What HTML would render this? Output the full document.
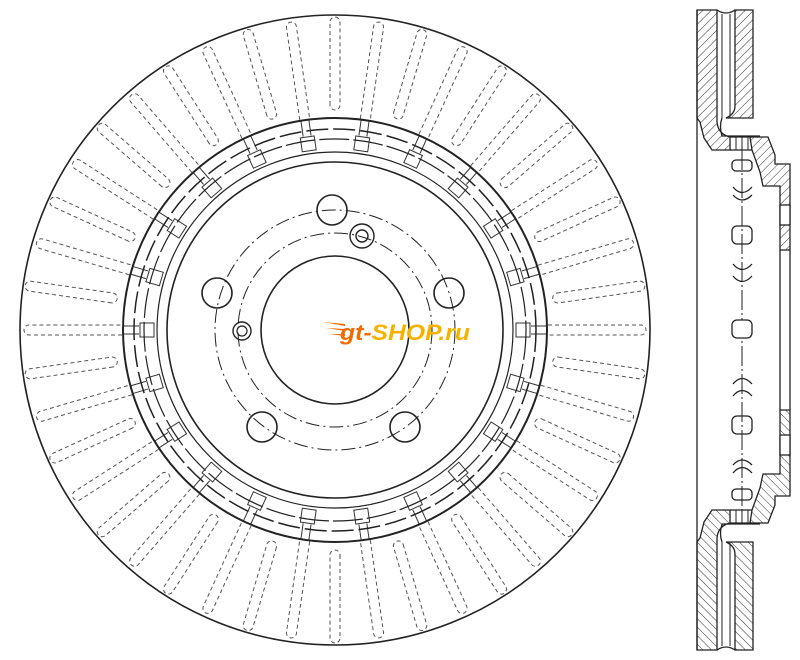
<!DOCTYPE html>
<html><head><meta charset="utf-8"><style>
html,body{margin:0;padding:0;background:#fff}
svg{display:block}
</style></head><body>
<svg id="s" width="800" height="660" viewBox="0 0 800 660" xmlns="http://www.w3.org/2000/svg">
<defs>
<pattern id="h" width="6" height="6" patternUnits="userSpaceOnUse" patternTransform="rotate(45)">
<rect width="6" height="6" fill="#fff"/><line x1="0" y1="0" x2="0" y2="6" stroke="#333" stroke-width="1"/>
</pattern>
</defs>
<g fill="none" stroke="#222">
<circle cx="335" cy="330" r="315" stroke-width="1.6"/>
<g id="vanes" stroke="#555" stroke-width="1" stroke-dasharray="4,3"></g>
<g id="tabs" stroke="#333" stroke-width="1"></g>
<circle cx="335" cy="330" r="212" stroke-width="2"/>
<circle cx="335" cy="330" r="201" stroke-width="1.5" stroke-dasharray="22,5"/>
<circle cx="335" cy="330" r="191" stroke-width="1.2" stroke-dasharray="30,4"/>
<circle cx="335" cy="330" r="178" stroke-width="1.2"/>
<circle cx="335" cy="330" r="168" stroke-width="1.6"/>
<circle cx="335" cy="330" r="74" stroke-width="1.6"/>
<circle cx="335" cy="330" r="120" stroke-width="1" stroke-dasharray="14,4,2,4"/>
<circle cx="335" cy="330" r="97" stroke-width="1" stroke-dasharray="14,4,2,4"/>
<circle cx="332" cy="210" r="15" stroke-width="1.6"/>
<circle cx="449" cy="293" r="15" stroke-width="1.6"/>
<circle cx="217" cy="293" r="15" stroke-width="1.6"/>
<circle cx="405" cy="427" r="15" stroke-width="1.6"/>
<circle cx="262" cy="427" r="15" stroke-width="1.6"/>
<circle cx="362" cy="236" r="12" stroke-width="1.4"/>
<circle cx="362" cy="236" r="6" stroke-width="1.4"/>
<circle cx="242" cy="331" r="9" stroke-width="1.4"/>
<circle cx="242" cy="331" r="5" stroke-width="1.2"/>
</g>
<g>
<path d="M323,322 L345,324 L345,326 Z M326,328 L345,329 L345,331 Z M329,334 L345,334 L345,336 Z" fill="#f26a00"/>
<text x="340" y="340" font-family="Liberation Sans, sans-serif" font-weight="bold" font-style="italic" font-size="22" textLength="130" lengthAdjust="spacingAndGlyphs"><tspan fill="#f26a00">gt-</tspan><tspan fill="#f5b300">SHOP.ru</tspan></text>
</g>
<g id="sec" stroke="#222" stroke-width="1.3">
<g id="half">
<path d="M697,10 H717 V122 Q718,134 730,137 V150 H712 L704,138 L700,122 L697,118 Z" fill="url(#h)"/>
<path d="M735,10 H753 V118 H726 Q735,114 735,106 Z" fill="url(#h)"/>
<path d="M717,10 Q726,16 735,10" fill="none"/>
<line x1="722" y1="14" x2="722" y2="118" stroke-width="1"/>
<line x1="730" y1="14" x2="730" y2="118" stroke-width="1"/>
<path d="M722,118 Q719,126 722,136 H760" fill="none"/>
<path d="M750,137 H768 L775,155 V164 H790 V250 H780 V186 H763 L760,172 L752,150 Z" fill="url(#h)"/>
<rect x="780" y="205" width="10" height="20" fill="#fff"/>
<line x1="730" y1="137" x2="752" y2="137"/>
<line x1="730" y1="150" x2="752" y2="150"/>
<line x1="736" y1="137" x2="736" y2="150" stroke-width="1"/>
<line x1="742" y1="137" x2="742" y2="150" stroke-width="1"/>
<line x1="748" y1="137" x2="748" y2="150" stroke-width="1"/>
<rect x="732" y="160" width="20" height="11" rx="4" fill="#fff"/>
<path d="M733,187 Q742,198 752,187 M733,195 Q742,205 752,195" fill="none"/>
<rect x="732" y="226" width="20" height="18" rx="5" fill="#fff"/>
<path d="M733,264 Q742,275 752,264 M733,276 Q742,287 752,276" fill="none"/>
</g>
<use href="#half" transform="translate(0,660) scale(1,-1)"/>
<line x1="697" y1="10" x2="697" y2="650"/>
<line x1="780" y1="250" x2="780" y2="410"/>
<line x1="790" y1="250" x2="790" y2="410"/>
<line x1="742" y1="150" x2="742" y2="510" stroke-width="1" stroke-dasharray="20,3,2,3"/>
<rect x="732" y="320" width="20" height="18" rx="5" fill="#fff"/>
</g>
</svg>
<script>
var ns="http://www.w3.org/2000/svg",v=document.getElementById("vanes"),t=document.getElementById("tabs");
function el(p,n,a){var e=document.createElementNS(ns,n);for(var k in a)e.setAttribute(k,a[k]);p.appendChild(e);return e;}
var N=44;
for(var i=0;i<N;i++){var a=180+i*360/N,tr="rotate("+a+" 335 330)";
if(i%2==0){
el(v,"path",{d:"M"+(335+213)+",325 H"+(335+306)+" A5,5 0 0 1 "+(335+306)+",335 H"+(335+213),transform:tr});
el(t,"path",{d:"M"+(335+196)+",326 H"+(335+212)+" M"+(335+196)+",334 H"+(335+212),transform:tr});
el(t,"rect",{x:335+181,y:323,width:14,height:14,fill:"#fff",transform:tr});
}else{
el(v,"rect",{x:335+220,y:325,width:93,height:10,rx:5,transform:tr});
}}
</script>
</body></html>
